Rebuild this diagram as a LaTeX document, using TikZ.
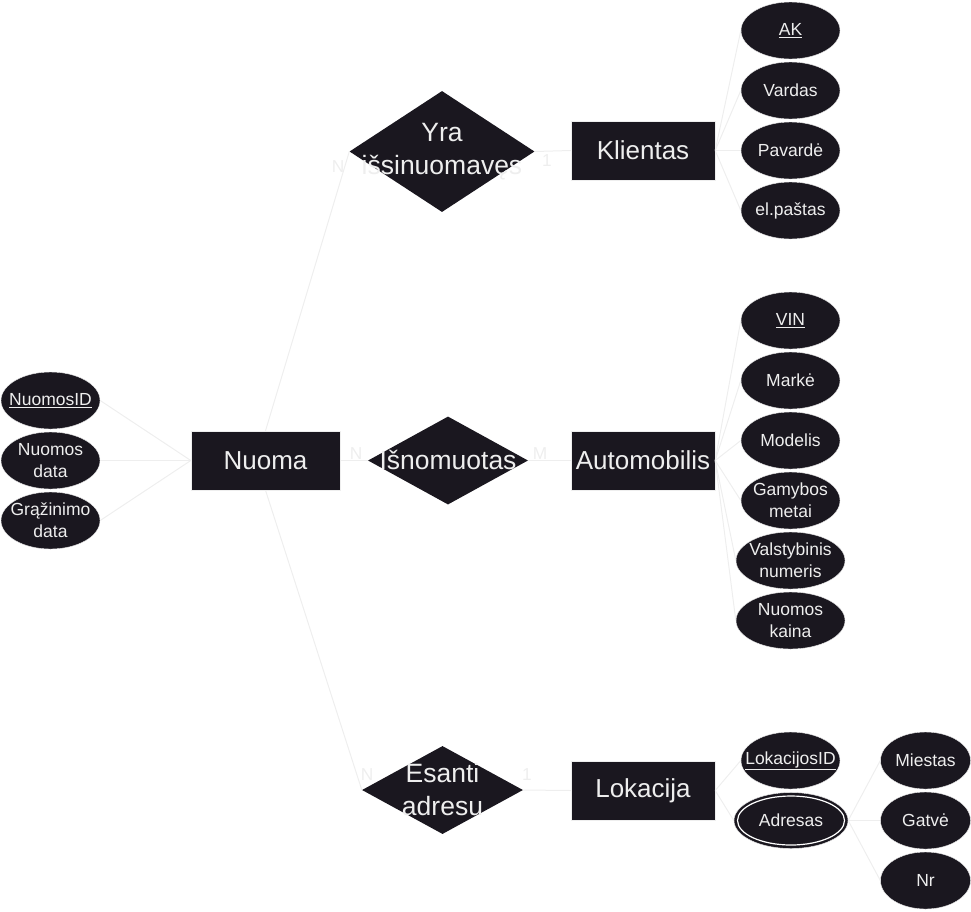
\documentclass[tikz,border=0pt]{standalone}
\usepackage{fontspec}
\setmainfont{Liberation Sans}
\usepackage{tikz}
\usetikzlibrary{shapes.geometric}
\definecolor{colorF}{RGB}{26,23,31}
\definecolor{colorL}{RGB}{238,238,238}

\begin{document}
\begin{tikzpicture}[x=1pt, y=-1pt,
		entity/.style={rectangle, fill=colorF, draw=colorL, text=colorL,
			minimum width=144pt, minimum height=59pt, inner sep=0pt,
			font=\fontsize{26}{34}\selectfont},
		rel/.style={diamond, fill=colorF, inner sep=0pt},
		reltext/.style={text=colorL, align=center, inner sep=0pt,
			font=\fontsize{26.5}{33}\selectfont},
		attr/.style={ellipse, fill=colorF, draw=colorL, text=colorL,
			minimum width=99pt, minimum height=57pt, inner xsep=-25pt, inner ysep=-12pt,
			align=center, font=\fontsize{17.5}{22}\selectfont},
		card/.style={text=colorL, inner sep=0pt, font=\fontsize{17.3}{20}\selectfont},
		conn/.style={draw=colorL, line width=1pt},
	]
		\useasboundingbox (0,0) rectangle (971,911);
		%
		\node[entity, minimum width=149pt] (nuoma) at (265.5,460.5) {Nuoma};
		\node[entity] (kl) at (643,150.5) {Klientas};
		\node[entity] (auto) at (643,460.5) {Automobilis};
		\node[entity] (lok) at (643,790.5) {Lokacija};
		%
		\node[rel, minimum width=185pt, minimum height=121pt] (yra) at (442,151.5) {};
		\node[rel, minimum width=160pt, minimum height=88pt] (isn) at (448,460.5) {};
		\node[rel, minimum width=161pt, minimum height=88pt] (esa) at (442.5,790) {};
		\node[reltext] (yra-t) at (442,151.5) {Yra\\išsinuomavęs};
		\node[reltext] (isn-t) at (448,460) {Išnomuotas};
		\node[reltext] (esa-t) at (442.5,790) {Esanti\\adresu};
		%
		\node[attr] (nid) at (50.5,400.5) {\underline{NuomosID}};
		\node[attr] (ndata) at (50.5,460.5) {Nuomos\\data};
		\node[attr] (gdata) at (50.5,520.5) {Grąžinimo\\data};
		%
		\node[attr] (ak) at (790.5,30.5) {\underline{AK}};
		\node[attr] (vardas) at (790.5,90.5) {Vardas};
		\node[attr] (pavarde) at (790.5,150.5) {Pavardė};
		\node[attr] (pastas) at (790.5,210.5) {el.paštas};
		%
		\node[attr] (vin) at (790.5,320.5) {\underline{VIN}};
		\node[attr] (marke) at (790.5,380.5) {Markė};
		\node[attr] (modelis) at (790.5,440.5) {Modelis};
		\node[attr] (metai) at (790.5,500.5) {Gamybos\\metai};
		\node[attr, minimum width=109pt] (numeris) at (790.5,560.5) {Valstybinis\\numeris};
		\node[attr, minimum width=109pt] (kaina) at (790.5,620.5) {Nuomos\\kaina};
		%
		\node[attr] (lid) at (790.5,760.5) {\underline{LokacijosID}};
		\node[attr, minimum width=114pt, minimum height=56pt] (adr) at (791,820.5) {Adresas};
		\node[ellipse, draw=white, line width=1.2pt, minimum width=107pt,
			minimum height=49pt, inner sep=0pt] (adr-in) at (adr) {};
		\node[attr, minimum width=90pt] (miestas) at (925.5,760.5) {Miestas};
		\node[attr, minimum width=90pt] (gatve) at (925.5,820.5) {Gatvė};
		\node[attr, minimum width=90pt] (nr) at (925.5,880.5) {Nr};
		%
		\draw[conn] (nuoma.north) to (yra.west);
		\draw[conn] (yra.east) to (kl.west);
		\draw[conn] (nuoma.east) to (isn.west);
		\draw[conn] (isn.east) to (auto.west);
		\draw[conn] (nuoma.south) to (esa.west);
		\draw[conn] (esa.east) to (lok.west);
		%
		\draw[conn] (nuoma.west) to (nid.east);
		\draw[conn] (nuoma.west) to (ndata.east);
		\draw[conn] (nuoma.west) to (gdata.east);
		\draw[conn] (kl.east) to (ak.west);
		\draw[conn] (kl.east) to (vardas.west);
		\draw[conn] (kl.east) to (pavarde.west);
		\draw[conn] (kl.east) to (pastas.west);
		\draw[conn] (auto.east) to (vin.west);
		\draw[conn] (auto.east) to (marke.west);
		\draw[conn] (auto.east) to (modelis.west);
		\draw[conn] (auto.east) to (metai.west);
		\draw[conn] (auto.east) to (numeris.west);
		\draw[conn] (auto.east) to (kaina.west);
		\draw[conn] (lok.east) to (lid.west);
		\draw[conn] (lok.east) to (adr.west);
		\draw[conn] (adr.east) to (miestas.west);
		\draw[conn] (adr.east) to (gatve.west);
		\draw[conn] (adr.east) to (nr.west);
		%
		\node[card] (c-yra-n) at (338,167) {N};
		\node[card] (c-yra-1) at (547,161) {1};
		\node[card] (c-isn-n) at (356,454) {N};
		\node[card] (c-isn-m) at (540,454) {M};
		\node[card] (c-esa-n) at (367,775) {N};
		\node[card] (c-esa-1) at (527,775) {1};
	\end{tikzpicture}
\end{document}
